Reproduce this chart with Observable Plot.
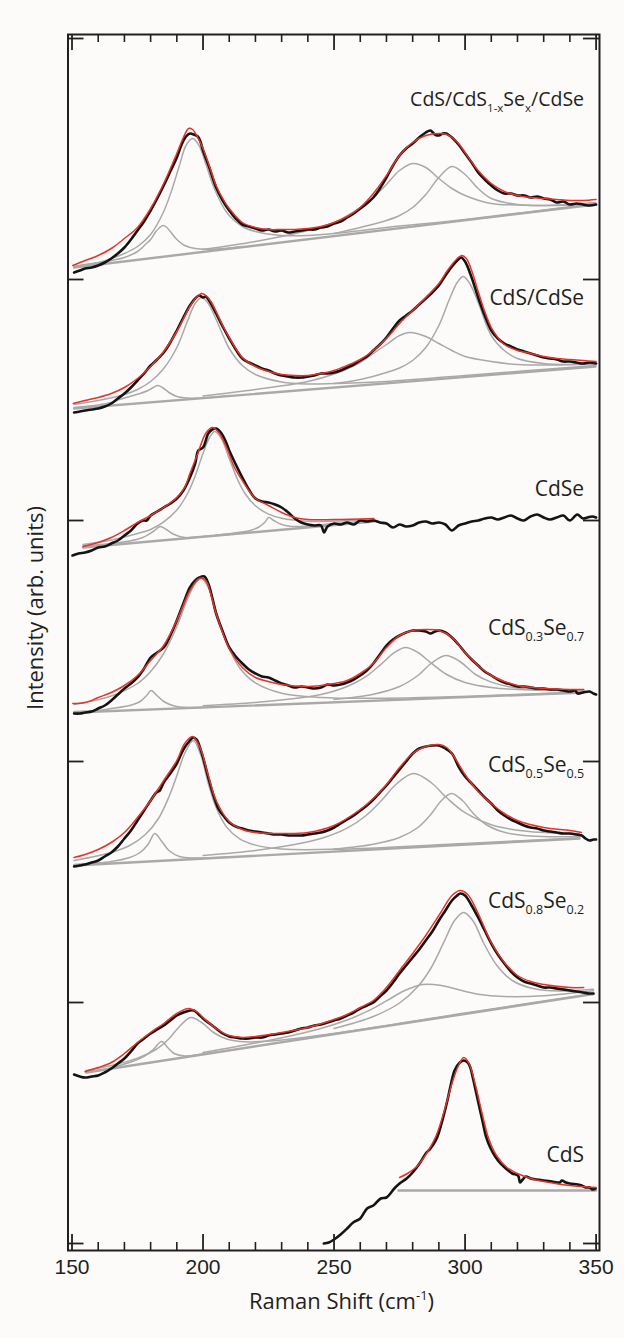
<!DOCTYPE html>
<html><head><meta charset="utf-8">
<script src="https://cdn.jsdelivr.net/npm/d3@7"></script>
<script src="https://cdn.jsdelivr.net/npm/@observablehq/plot@0.6"></script>
<style>body{margin:0;background:#fcfbfa;} svg{display:block}</style>
</head><body><div id="chart"></div>
<script>
// ---------- tick values ----------
const xTickLabels = [150, 200, 250, 300, 350];
const xMinorTicks = [160,170,180,190,210,220,230,240,260,270,280,290,310,320,330,340];
const yTicks = [0, 241, 482, 723, 964, 1205];

// ---------- spectrum labels ----------
const labelParts = [
  [["CdS/CdS",0],["1-x",1],["Se",0],["x",1],["/CdSe",0]],
  [["CdS/CdSe",0]],
  [["CdSe",0]],
  [["CdS",0],["0.3",1],["Se",0],["0.7",1]],
  [["CdS",0],["0.5",1],["Se",0],["0.5",1]],
  [["CdS",0],["0.8",1],["Se",0],["0.2",1]],
  [["CdS",0]]
];
const labelY = [1137, 938, 747, 608, 471, 335, 81];
const labelSize = [19.5, 21, 21, 21, 21, 21, 21];
const labelX = 345.6;

// ---------- 1: CdS/CdS1-xSex/CdSe ----------
const s1Data = [[150.8,971],[153,973],[155,975],[157.5,976],[160,978],[162.5,981],[165,985],[167.5,990],[170,996],[172.5,1004],[175,1013],[177.5,1022],[180,1033],[182.5,1045],[185,1058],[187.5,1072],[190,1086],[192,1100],[193.5,1107],[195,1110],[196.5,1109],[198,1107],[199,1102],[200,1093],[202.5,1075],[205,1056],[207.5,1043],[210,1033],[212.5,1025],[215,1019],[217.5,1017],[220,1015],[222.5,1013],[225,1014],[227.5,1012],[230,1013],[232.5,1011],[235,1012],[237.5,1013],[240,1014],[242.5,1014],[245,1016],[247.5,1017],[250,1020],[252.5,1022],[255,1026],[257.5,1030],[260,1035],[262.5,1040],[265,1046],[267.5,1055],[270,1066],[272.5,1078],[275,1088],[277.5,1095],[280,1100],[282.5,1106],[285,1111],[286.8,1113],[288.5,1109],[290,1108],[291.5,1110],[292.8,1110],[294,1108],[295,1106],[297.5,1099],[300,1090],[302.5,1081],[305,1071],[307.5,1064],[310,1058],[312.5,1053],[315,1050],[317.5,1050],[320,1048],[322.5,1048],[325,1046],[327.5,1047],[330,1045],[332.5,1044],[335,1041],[337.5,1042],[340,1039],[342.5,1040],[345,1039],[347.5,1038],[350,1039]];
const s1Fit = [[150.3,978],[155,983],[160,988],[165,995],[170,1005],[175,1016],[180,1035],[185,1060],[190,1090],[192.5,1106],[194.5,1115],[196,1114],[198,1106],[200,1095],[202.5,1077],[205,1058],[207.5,1045],[210,1035],[215,1021],[220,1016],[225,1014],[230,1014],[235,1014],[240,1015],[245,1017],[250,1021],[255,1027],[260,1036],[265,1050],[270,1068],[275,1088],[280,1101],[285,1108],[290,1110],[293,1109],[295,1106],[297.5,1100],[300,1091],[305,1073],[310,1060],[315,1052],[320,1048],[325,1046],[330,1045],[335,1044],[340,1043],[345,1043],[350,1044]];
const s1Base = [[150.8,976],[349.8,1039]];
const s1A = [[150.8,977],[155,979],[160,980.5],[165,983],[170,986],[175,992],[178,999],[180,1004],[182,1012],[183.5,1016],[184.7,1018],[186,1016.5],[187.5,1012],[190,1004],[193,998],[197,995],[205,994.5],[215,997]];
const s1B = [[150.8,977],[160,981],[165,985],[170,990],[175,997],[180,1009],[185,1032],[188,1053],[191,1078],[193.5,1098],[196,1105],[198.5,1098],[201,1080],[204,1057],[207,1040],[210,1028],[215,1017],[220,1012],[230,1008],[240,1008],[250,1010],[270,1016],[300,1024],[349.8,1040]];
const s1C = [[200,994],[220,1002],[240,1013],[250,1021],[260,1036],[265,1046],[270,1059],[275,1073],[280,1080],[285,1076],[290,1065],[295,1055],[300,1048],[310,1040],[320,1038.5],[335,1038],[349.8,1040]];
const s1D = [[250,1010],[260,1016],[270,1023],[275,1028],[280,1036],[285,1049],[290,1066],[295,1077],[300,1069],[305,1055],[310,1045],[320,1039],[330,1038],[349.8,1041]];

// ---------- 2: CdS/CdSe ----------
const s2Data = [[150.8,831],[153,832],[155,833],[157.5,834],[160,835],[162.5,837],[165,840],[167.5,845],[170,850],[172.5,856],[175,863],[177.5,870],[180,878],[182.5,884],[185,891],[187.5,901],[190,913],[192.5,926],[195,938],[197,945],[198.6,948],[200,946],[201,947],[203,940],[205,930],[207.5,917],[210,905],[212.5,894],[215,885],[217.5,881],[220,878],[222.5,875],[225,873],[227.5,870],[230,868],[232.5,867],[235,866],[237.5,866],[240,867],[242.5,868],[245,870],[247.5,870],[250,871],[252.5,873],[255,876],[257.5,879],[260,883],[262.5,887],[265,893],[267.5,899],[270,906],[272.5,915],[275,923],[277.5,928],[280,933],[282.5,939],[285,945],[287.5,951],[290,958],[292.5,968],[295,977],[297,983],[298.5,986],[300,982],[302.5,966],[305,946],[307.5,928],[310,913],[312.5,905],[315,900],[317.5,897],[320,894],[322.5,892],[325,890],[327.5,888],[330,886],[332.5,885],[335,884],[337.5,882],[340,882],[342.5,881],[345,880],[347.5,881],[350,880]];
const s2Fit = [[150.5,840],[155,843],[160,846],[165,850],[170,856],[175,865],[180,877],[185,892],[190,912],[195,937],[197.5,946],[199.5,950],[201.5,947],[203,942],[205,932],[207.5,918],[210,906],[215,886],[220,877],[225,872],[230,869],[235,868],[240,868],[245,870],[250,873],[255,878],[260,884],[265,893],[270,905],[275,920],[280,933],[285,946],[290,960],[293,972],[295,979],[297,985],[298.8,988],[300.5,985],[302.5,973],[305,952],[307.5,932],[310,916],[312.5,906],[315,899],[320,893],[325,890],[330,887],[335,885],[340,884],[345,883],[350,882]];
const s2Base = [[150.8,835],[349.8,877]];
const s2A = [[150.8,836],[160,838.5],[165,841],[168,844],[172,847],[176,850],[179,853],[181,856],[182.7,858],[184.5,856],[187,851],[190,847],[194,845.5],[200,845.5],[210,848]];
const s2B = [[150.8,839],[160,843],[170,849],[175,854],[180,862],[185,875],[190,896],[194,922],[197,940],[199.5,946],[202,940],[205,924],[208,906],[210,895],[215,878],[220,869],[230,861.5],[240,859.5],[250,860],[270,862],[300,868],[349.8,878]];
const s2C = [[200,847.5],[220,854],[240,862],[250,869.5],[260,881],[265,890],[270,899],[275,908],[279,911],[285,907],[290,900],[295,893],[300,887],[310,882],[320,879],[335,878.5],[349.8,880]];
const s2D = [[250,860],[260,864],[270,871],[275,875.5],[280,883],[285,896],[290,918],[294,944],[297,961],[299.3,967],[302,959],[305,941],[310,908],[315,893],[320,885],[330,880],[340,879],[349.8,879.5]];

// ---------- 3: CdSe ----------
const s3Data = [[150.2,688],[152.5,690],[155,691],[157.5,693],[160,696],[162.5,697],[165,700],[167.5,703],[170,708],[172.5,713],[175,720],[177,723],[178.5,723],[180,728],[182.5,732],[185,736],[187.5,740],[190,745],[192.5,753],[195,766],[197,780],[198.2,793],[200,796],[202,810],[203.5,814],[205,815],[206.8,811],[208.5,803],[210,793],[212.5,779],[215,766],[217.5,754],[220,745],[222.5,742],[225,741],[227.5,739],[230,736],[232.5,731],[235,725],[237.5,721],[240,719],[242.5,718],[245,718],[246.2,711],[247.5,717],[250,720],[252.5,719],[255,721],[257.5,719],[260,723],[262.5,722],[265,723],[267.5,721],[270,720],[272.5,716],[275,719],[277.5,717],[280,718],[282.5,721],[285,722],[287.5,720],[290,721],[292.5,719],[295,713],[297.5,718],[300,720],[302.5,722],[305,723],[307.5,725],[310,726],[312.5,724],[315,726],[317.5,728],[320,725],[322.5,723],[325,727],[327.5,729],[330,726],[332.5,724],[335,726],[337.5,728],[340,723],[342.8,729],[345,725],[346.7,726],[348.5,727],[350,726]];
const s3Fit = [[154.2,697],[160,701],[165,706],[170,713],[175,721],[180,728],[185,736],[190,746],[193,756],[195,770],[198,790],[201,810],[203.5,816],[206,811],[209,796],[212,776],[215,763],[220,745],[225,738],[230,731],[235,726],[240,724],[250,724],[265.2,725]];
const s3Base = [[154.2,696],[265.2,722]];
const s3A = [[154.2,697.5],[165,700],[172,702.5],[177,706],[181,712],[183.7,717],[186,714],[189,709],[193,706],[200,707],[210,709]];
const s3B = [[154.2,699],[165,703.6],[175,710],[180,714],[185,721.6],[190,733.5],[194,749.5],[197,767.5],[200,790],[202.5,806],[204.5,812],[207,805],[210,785],[213,765],[216,750],[220,737.7],[225,729.4],[230,725.3],[240,722.3],[250,722.4],[265.2,724.3]];
const s3C = [[205,708.5],[212,710.5],[218,713],[221,716],[223.5,721],[225.1,726],[227,723],[230,719],[234,717],[240,717.5],[250,720],[265.2,723]];

// ---------- 4: CdS0.3Se0.7 ----------
const s4Data = [[150.8,530],[153,530],[155,531],[157.5,532],[160,535],[162.5,538],[165,543],[167.5,549],[170,555],[172.5,560],[175,566],[177.5,575],[180,586],[182.5,591],[185,596],[187.5,608],[190,623],[192.5,640],[195,656],[197,663],[198.6,666],[200.5,667],[202,660],[203.5,646],[205,630],[207.5,612],[210,596],[212.5,587],[215,580],[217.5,574],[220,570],[222.5,567],[225,566],[227.5,563],[230,560],[232.5,558],[235,556],[237.5,557],[240,556],[242.5,555],[245,556],[247.5,559],[250,558],[252.5,559],[255,561],[257.5,564],[260,568],[262.5,573],[265,580],[267.5,589],[270,598],[272.5,604],[275,608],[277.5,611],[280,613],[282.5,613],[285,612],[286.8,610],[288.5,612],[290,613],[292.5,611],[295,606],[297.5,599],[300,591],[302.5,584],[305,578],[307.5,572],[310,568],[312.5,564],[315,561],[317.5,559],[320,557],[322.5,557],[325,556],[327.5,555],[330,555],[332.5,554],[335,554],[337.5,553],[340,552],[342,553],[343,550],[345,551],[347.5,552],[349,550],[350,549]];
const s4Fit = [[150.3,540],[155,541],[160,546],[165,551],[170,558],[175,568],[180,583],[185,598],[190,623],[195,653],[198.5,665],[200,665],[201.5,661],[205,630],[210,595],[215,576],[220,566],[225,562],[230,559],[240,557],[250,560],[255,563],[260,570],[265,580],[270,596],[275,608],[280,613],[285,614],[290,613],[295,606],[300,591],[305,578],[310,568],[315,562],[320,558],[330,555],[340,554],[345.3,554]];
const s4Base = [[150.8,531],[345.3,551]];
const s4A = [[150.8,532],[160,533],[165,535],[172,538],[176,542],[178.5,548],[180.2,553],[182,549],[185,542],[189,537.5],[195,536],[205,536.5]];
const s4B = [[150.8,539],[165,547.5],[175,560],[180,572],[185,590],[190,617],[194,644],[197,660],[199.4,665],[202,656],[205,632],[209,601],[214,575.5],[220,560.6],[230,550.3],[245,546],[270,545.3],[345.3,551.5]];
const s4C = [[200,537.8],[220,541],[235,545],[245,549],[255,557],[262,566.6],[268,579.4],[273,590.8],[277.3,596],[282,591],[287,580.6],[293,569],[300,561],[310,556],[325,553.4],[345.3,553.3]];
const s4D = [[250,544],[265,549.3],[275,557],[282,568],[287,580],[292.6,588],[298,582],[304,569],[310,561.4],[320,555.4],[335,553.2],[345.3,553]];

// ---------- 5: CdS0.5Se0.5 ----------
const s5Data = [[150.8,377],[153,378],[155,379],[157.5,381],[160,383],[162.5,387],[165,391],[167.5,397],[170,405],[172.5,413],[175,423],[177.5,433],[180,443],[182.2,451],[183.5,453],[185,461],[187.5,470],[190,480],[192.5,494],[195,503],[196.2,506],[197.5,504],[198,502],[200,486],[202,466],[204,448],[206,434],[208,427],[210,421],[212.5,417],[215,415],[217.5,413],[220,412],[222.5,411],[225,410],[227.5,409],[230,409],[232.5,408],[235,408],[237.5,408],[240,409],[242.5,410],[245,411],[247.5,413],[250,416],[252.5,420],[255,424],[257.5,428],[260,433],[262.5,438],[265,444],[267.5,451],[270,458],[272.5,466],[275,474],[277.5,482],[280,490],[282.5,495],[285,497],[287.5,498],[290,498],[292.5,495],[295,490],[297.5,477],[300,467],[302.5,460],[305,453],[307.5,446],[310,440],[312.5,433],[315,428],[317.5,424],[320,421],[322.5,418],[325,416],[327.5,415],[330,413],[332.5,412],[335,411],[337.5,410],[340,410],[342.5,409],[344.5,408],[346,405],[347.5,403],[349,404],[350,404]];
const s5Fit = [[150.8,386],[155,389],[160,394],[165,401],[170,411],[175,426],[180,443],[183,455],[185,463],[190,483],[193,500],[196,507],[199,495],[202,468],[205,443],[210,422],[215,414],[220,411],[230,410],[240,411],[250,418],[260,434],[265,445],[270,459],[275,476],[280,490],[285,497],[290,499],[293,496],[296,486],[300,469],[305,452],[310,440],[315,430],[320,423],[330,416],[340,413],[344.4,411]];
const s5Base = [[150.8,378],[343.7,405]];
const s5A = [[150.8,379],[165,382],[172,386],[176,391],[179,399],[181.6,410],[184,403],[187,393],[191,387],[197,385.5],[210,386.5]];
const s5B = [[150.8,383],[165,391],[172,398],[178,409],[183,425],[187,446.7],[190,467.7],[193,490],[196.3,503],[199,489.4],[202,460],[205,436],[209,416.4],[214,404.6],[220,398.4],[230,394.5],[250,394.2],[300,400],[343.7,405.5]];
const s5C = [[200,388],[220,393],[235,399],[245,405],[255,415.4],[262,427.5],[268,442.7],[274,460],[280.4,470],[287,461],[293,445.7],[300,430.8],[310,418.8],[320,413.3],[335,410.3],[343.7,410]];
const s5D = [[250,394.5],[265,399.3],[275,406],[282,416],[287,429.3],[291,443],[294.8,450],[299,443],[303,430.5],[308,419],[315,411.2],[325,407.5],[343.7,407]];

// ---------- 6: CdS0.8Se0.2 ----------
const s6Data = [[150.8,169],[153,167],[155,166],[157.5,167],[160,168],[162.5,171],[165,175],[167.5,180],[170,185],[172.5,192],[175,200],[177.5,205],[180,210],[182.5,214],[185,218],[187.5,223],[190,228],[192.5,231],[195,233],[196.5,233],[198,230],[200,225],[202.5,220],[205,215],[207.5,210],[210,207],[212.5,206],[215,205],[217.5,205],[220,206],[222.5,206],[225,208],[227.5,209],[230,210],[232.5,211],[235,213],[237.5,215],[240,216],[242.5,218],[245,219],[247.5,221],[250,223],[252.5,225],[255,228],[257.5,231],[260,235],[262.5,238],[265,241],[267.5,247],[270,253],[272.5,261],[275,270],[277.5,278],[280,286],[282.5,294],[285,303],[287.5,312],[290,323],[292.5,333],[295,343],[297,348],[298.2,350],[300,348],[302.5,338],[305,326],[307.5,313],[310,300],[312.5,289],[315,280],[317.5,272],[320,266],[322.5,262],[325,260],[327.5,258],[330,256],[332.5,256],[335,255],[337.5,254],[340,253],[342.5,252],[345,251],[347.5,250],[349,250]];
const s6Fit = [[155,172],[160,176],[165,181],[170,190],[175,201],[180,211],[185,220],[190,230],[194.5,235],[198,231],[200,226],[205,215],[210,208],[215,206],[220,207],[230,211],[240,216],[250,224],[255,229],[260,236],[265,243],[270,256],[275,273],[280,290],[285,308],[290,328],[295,348],[298,353],[301,349],[305,330],[310,301],[315,281],[320,268],[325,262],[330,259],[340,256],[345.3,256]];
const s6Base = [[155.4,171],[349,249.4]];
const s6A = [[155.4,172],[163,174.5],[168,178],[174,183],[178,188],[181,194],[184.2,202],[186.5,196],[189,190],[193,187.5],[200,189.5],[210,193.2]];
const s6B = [[155.4,173],[165,178],[175,185.4],[182,194],[187,204.8],[191,217],[195.3,226],[199.5,221],[204,211],[209,204.5],[216,201.7],[230,203.5],[260,214],[300,230.5],[349,250]];
const s6C = [[200,191],[220,200.5],[235,208.6],[245,215],[255,223.5],[263,232.6],[270,242.6],[277,253],[283.7,259],[291,258],[298,253.4],[305,249.3],[315,247],[330,247.8],[349,252.8]];
const s6D = [[250,215],[265,227],[275,240.5],[282,257],[287,275.5],[292,301.8],[296,323],[299.4,331],[303,322.8],[307,301],[312,278.5],[318,263],[326,255],[336,252.5],[349,254.2]];

// ---------- 7: CdS ----------
const s7Data = [[246.1,0],[248,1],[250,4],[252.5,9],[255,15],[257.3,21],[260,25],[262.6,35],[265,38],[267.8,45],[270,46],[273,55],[275,60],[277.7,65],[280,71],[282.9,81],[285,90],[286.8,95],[288.8,103],[290,111],[292.8,138],[294.5,158],[296,173],[298,181],[299.5,183],[301,181],[302,176],[303.2,163],[304.3,150],[306.6,123],[308,107],[309.6,96],[311.5,87],[313.5,80],[316,74],[318,70],[320.2,68],[321,61],[322,64],[323.2,67],[325,65],[327.5,64],[330,63],[333,62],[336.2,61],[336.9,63],[338.5,61],[339.9,60],[343,59],[344.5,58],[346,56],[347.5,56],[348.7,54],[349.8,55]];
const s7Fit = [[275,66],[278,70],[282,78],[286,93],[289,108],[292,132],[295,160],[297.5,178],[299.5,186],[301.5,180],[304,158],[306.5,130],[309,105],[312,88],[316,76],[320,70],[325,65],[330,62],[340,58],[350,56]];
const s7Base = [[274.6,53],[350,53]];

// ---------- build tables ----------
const spectra = [
  {id: 1, data: s1Data, fit: s1Fit, base: s1Base, comps: [s1A, s1B, s1C, s1D]},
  {id: 2, data: s2Data, fit: s2Fit, base: s2Base, comps: [s2A, s2B, s2C, s2D]},
  {id: 3, data: s3Data, fit: s3Fit, base: s3Base, comps: [s3A, s3B, s3C]},
  {id: 4, data: s4Data, fit: s4Fit, base: s4Base, comps: [s4A, s4B, s4C, s4D]},
  {id: 5, data: s5Data, fit: s5Fit, base: s5Base, comps: [s5A, s5B, s5C, s5D]},
  {id: 6, data: s6Data, fit: s6Fit, base: s6Base, comps: [s6A, s6B, s6C, s6D]},
  {id: 7, data: s7Data, fit: s7Fit, base: s7Base, comps: []}
];
const toRows = (arr, key) => arr.map(([x, y]) => ({x, y, key}));
const dataRows = spectra.flatMap(s => toRows(s.data, "d" + s.id));
const fitRows = spectra.flatMap(s => toRows(s.fit, "f" + s.id));
const baseRows = spectra.flatMap(s => toRows(s.base, "b" + s.id));
const compRows = spectra.flatMap(s => s.comps.flatMap((c, i) => toRows(c, "c" + s.id + "_" + i)));

const ink = "#231f20";
const gray = "#a9a9a9";
const plotH = 1250 - 34, plotW = 599 - 67.5;

const chart = Plot.plot({
  width: 624,
  height: 1338,
  marginTop: 34,
  marginBottom: 88,
  marginLeft: 67.5,
  marginRight: 25,
  style: {background: "#fcfbfa", fontFamily: "'Liberation Sans', Arial, sans-serif", fontSize: "21px", color: ink},
  x: {domain: [148.47, 351.3], axis: null},
  y: {domain: [-7, 1209], axis: null},
  marks: [
    Plot.line(compRows, {x: "x", y: "y", z: "key", stroke: gray, strokeWidth: 1.5, curve: "catmull-rom"}),
    Plot.line(baseRows, {x: "x", y: "y", z: "key", stroke: gray, strokeWidth: 2.4}),
    Plot.line(dataRows, {x: "x", y: "y", z: "key", stroke: "#141414", strokeWidth: 2.6, curve: "catmull-rom"}),
    Plot.line(fitRows, {x: "x", y: "y", z: "key", stroke: "#e5332a", strokeWidth: 1.5, curve: "catmull-rom"}),
    Plot.frame({stroke: ink, strokeWidth: 2}),
    Plot.tickX(xMinorTicks, {x: d => d, stroke: ink, strokeWidth: 1.6, insetBottom: plotH - 8}),
    Plot.tickX(xTickLabels, {x: d => d, stroke: ink, strokeWidth: 1.8, insetBottom: plotH - 16}),
    Plot.tickX(xMinorTicks, {x: d => d, stroke: ink, strokeWidth: 1.6, insetTop: plotH - 8}),
    Plot.tickX(xTickLabels, {x: d => d, stroke: ink, strokeWidth: 1.8, insetTop: plotH - 16}),
    Plot.tickY(yTicks, {y: d => d, stroke: ink, strokeWidth: 1.8, insetRight: plotW - 16}),
    Plot.tickY(yTicks, {y: d => d, stroke: ink, strokeWidth: 1.8, insetLeft: plotW - 16}),
    Plot.axisX({ticks: xTickLabels, tickSize: 0, tickPadding: 9, anchor: "bottom", label: null, fill: ink})
  ]
});

document.getElementById("chart").appendChild(chart);

// ---------- text with sub/superscripts ----------
const svg = d3.select(chart);
const sx = chart.scale("x"), sy = chart.scale("y");
const labelFont = "'Open Sans', 'Noto Sans', sans-serif";

labelParts.forEach((parts, i) => {
  const fs = labelSize[i];
  const subFs = Math.round(fs * 0.6 * 2) / 2;
  const t = svg.append("text")
    .attr("x", sx.apply(labelX)).attr("y", sy.apply(labelY[i]))
    .attr("text-anchor", "end")
    .attr("font-family", labelFont).attr("font-size", fs).attr("fill", ink);
  let shifted = false;
  parts.forEach(([str, sub]) => {
    const ts = t.append("tspan").text(str);
    if (sub && !shifted) { ts.attr("font-size", subFs).attr("dy", 6); shifted = true; }
    else if (!sub && shifted) { ts.attr("dy", -6); shifted = false; }
    else if (sub) ts.attr("font-size", subFs);
  });
});

// x axis title
const xt = svg.append("text")
  .attr("x", 341.5).attr("y", 1309)
  .attr("text-anchor", "middle")
  .attr("font-family", labelFont).attr("font-size", 22).attr("fill", ink);
xt.append("tspan").text("Raman Shift (cm");
xt.append("tspan").text("-1").attr("font-size", 13).attr("dy", -9);
xt.append("tspan").text(")").attr("dy", 9);

// y axis title
svg.append("text")
  .attr("transform", "translate(43,608) rotate(-90)")
  .attr("text-anchor", "middle")
  .attr("font-family", labelFont).attr("font-size", 22).attr("fill", ink)
  .text("Intensity (arb. units)");
</script></body></html>
